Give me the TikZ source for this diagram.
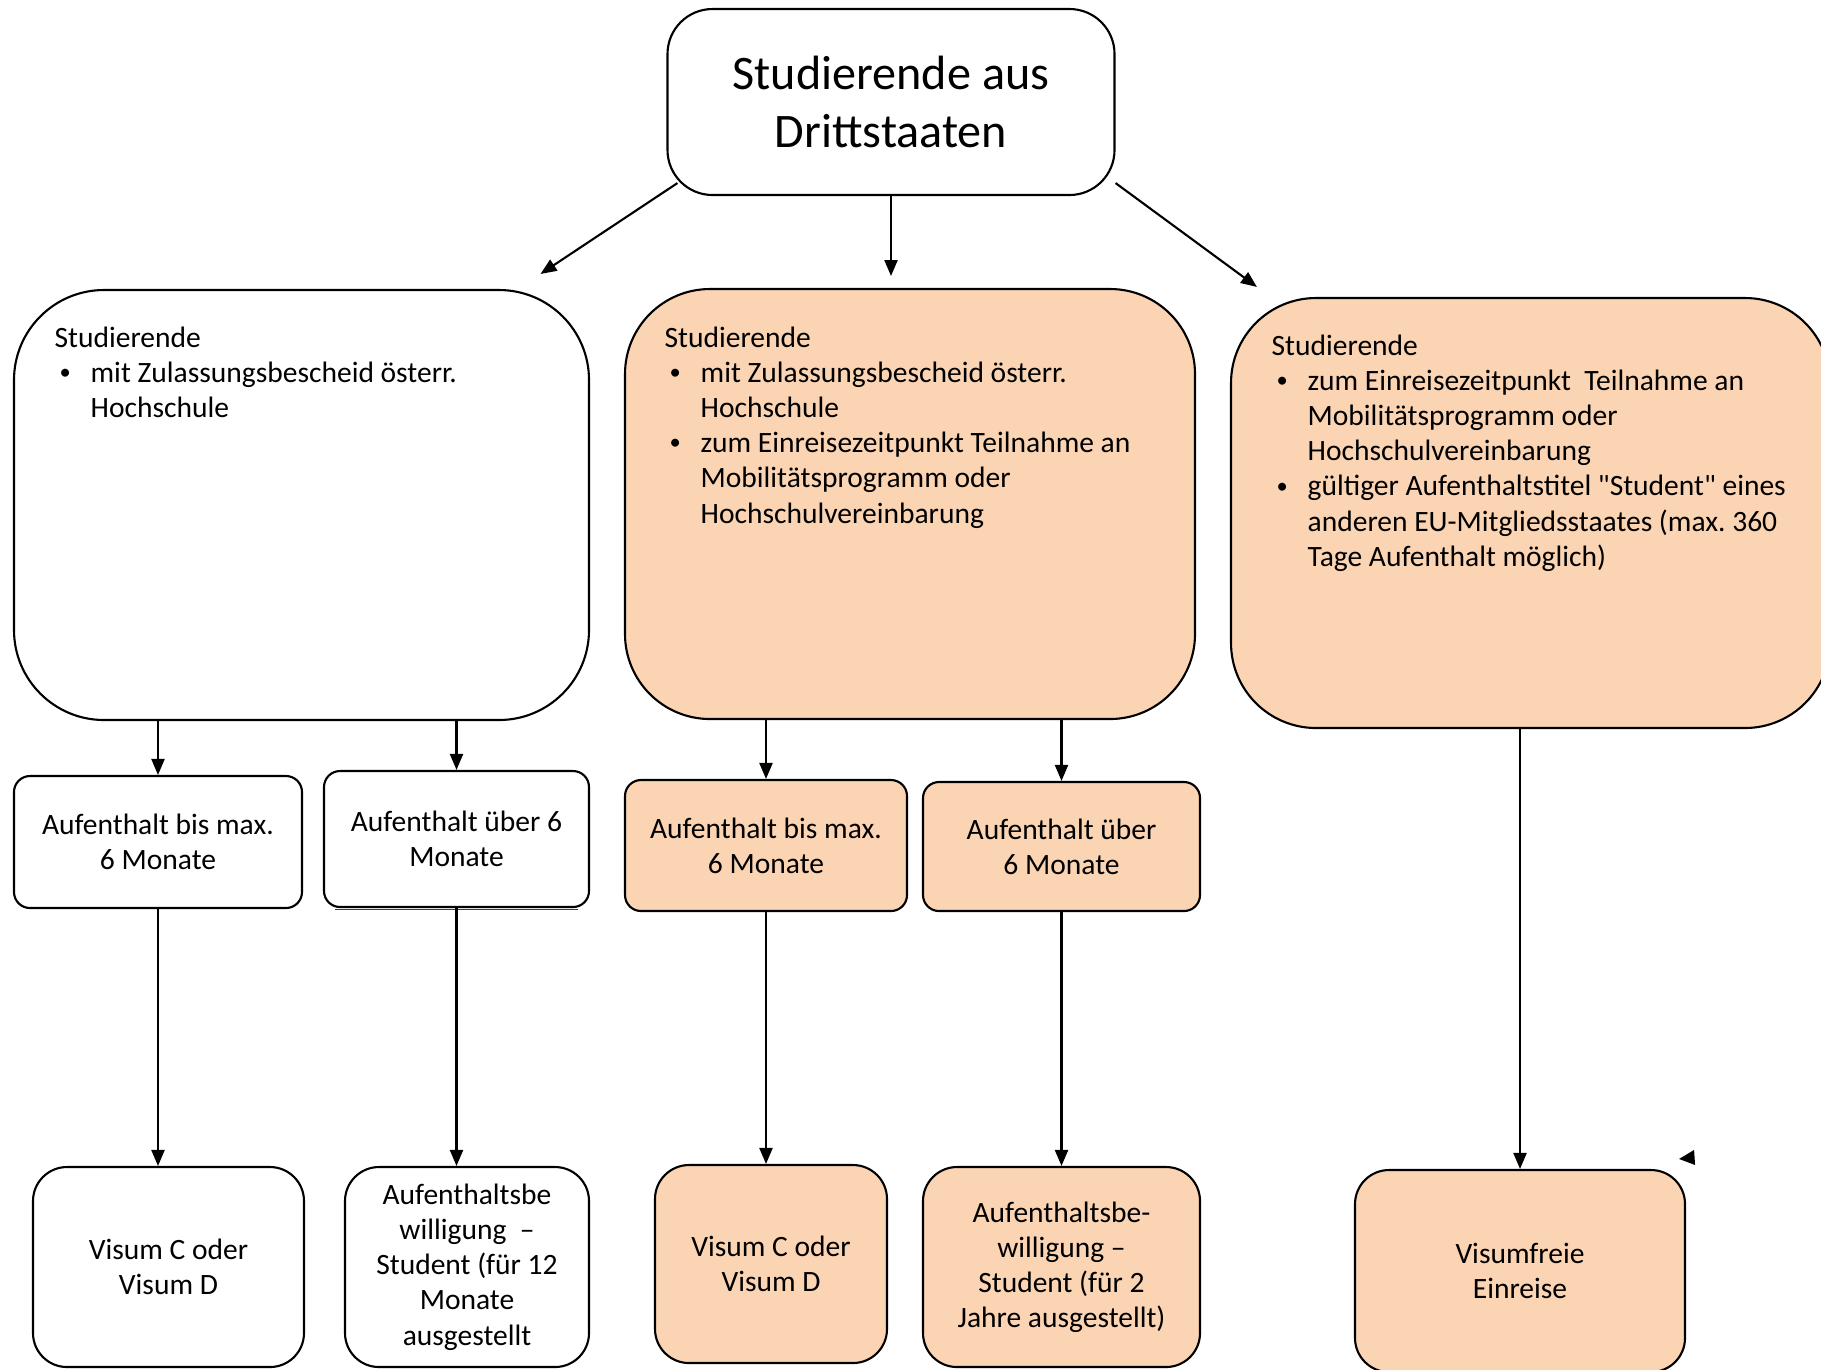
\documentclass[tikz,border=0pt]{standalone}
\usepackage{fontspec}
\setmainfont{Carlito}
\usepackage{tikz}
\usetikzlibrary{arrows.meta,positioning,calc}
\definecolor{peach}{HTML}{FBD4B4}
\newcommand{\pkt}{\hspace{0.5mm}\raisebox{0.2ex}{\fontsize{6.4}{10}\selectfont\textbullet}}
\tikzstyle{block} = [draw, rectangle, line width=0.6pt, align=center, text=black, inner sep=0pt]
\tikzstyle{big} = [block, rounded corners=8.5mm]
\tikzstyle{mid} = [block, rounded corners=1.6mm]
\tikzstyle{low} = [block, rounded corners=3.4mm]
\tikzstyle{tinted} = [fill=peach]
\tikzstyle{liste} = [anchor=north west, inner sep=0pt, align=left]
\tikzstyle{arr} = [draw, line width=0.6pt, ->]

\begin{document}
\frenchspacing
\begin{tikzpicture}[x=0.1mm, y=-0.1mm, >={Triangle[length=1.6mm,width=1.3mm]}, font=\fontsize{8.4}{10}\selectfont]
    \useasboundingbox (0,0) rectangle (1821,1369);
    \clip (0,0) rectangle (1821,1369);

    \node at (891,102) [block, name=top, rounded corners=4.5mm, minimum width=44.7mm, minimum height=18.6mm, font=\fontsize{13.7}{16.5}\selectfont] {Studierende aus\\ Drittstaaten};

    % obere Reihe
    \node at (301.5,505) [big, name=boxA, rounded corners=9mm, minimum width=57.5mm, minimum height=43mm] {};
    \node at (910,504) [big, tinted, name=boxB, minimum width=57mm, minimum height=43mm] {};
    \node at (1530.5,513) [big, tinted, name=boxC, minimum width=59.9mm, minimum height=43mm] {};

    \node [liste, below right=3.3mm and 4.1mm of boxA.north west] (txtA) {\begin{tabular}{@{}p{3.6mm}@{}l@{}}
        \multicolumn{2}{@{}l@{}}{Studierende}\\
        \pkt & mit Zulassungsbescheid österr.\\
        & Hochschule
    \end{tabular}};
    \node [liste, below right=3.4mm and 4.0mm of boxB.north west] (txtB) {\begin{tabular}{@{}p{3.6mm}@{}l@{}}
        \multicolumn{2}{@{}l@{}}{Studierende}\\
        \pkt & mit Zulassungsbescheid österr.\\
        & Hochschule\\
        \pkt & zum Einreisezeitpunkt Teilnahme an\\
        & Mobilitätsprogramm oder\\
        & Hochschulvereinbarung
    \end{tabular}};
    \node [liste, below right=3.3mm and 4.1mm of boxC.north west] (txtC) {\begin{tabular}{@{}p{3.6mm}@{}l@{}}
        \multicolumn{2}{@{}l@{}}{Studierende}\\
        \pkt & zum Einreisezeitpunkt\ \ Teilnahme an\\
        & Mobilitätsprogramm oder\\
        & Hochschulvereinbarung\\
        \pkt & gültiger Aufenthaltstitel \textquotedbl Student\textquotedbl\ eines\\
        & anderen EU-Mitgliedsstaates (max. 360\\
        & Tage Aufenthalt möglich)
    \end{tabular}};

    \draw [arr] ($(top.south west)+(11,-13)$) -- ($(boxA.north)+(239,-15)$);
    \draw [arr] (top.south) -- ($(top.south)+(0,80)$);
    \draw [arr] ($(top.south east)+(0,-13)$) -- ($(boxC.north west)+(27,-10)$);

    % Aufenthaltsdauer
    \node at (158,842) [mid, name=a1, minimum width=28.8mm, minimum height=13.2mm] {Aufenthalt bis max.\\ 6 Monate};
    \node at (456.5,839) [mid, name=a2, minimum width=26.5mm, minimum height=13.6mm] {Aufenthalt über 6\\ Monate};
    \draw [red!80!black, line width=0.5pt] ($(a2.south west)+(12,1.5)$) -- ($(a2.south east)+(-12,1.5)$);
    \node at (766,845.5) [mid, tinted, name=b1, minimum width=28.2mm, minimum height=13.1mm] {Aufenthalt bis max.\\ 6 Monate};
    \node at (1061.5,846.5) [mid, tinted, name=b2, minimum width=27.7mm, minimum height=12.9mm] {Aufenthalt über\\ 6 Monate};

    \draw [arr] (boxA.south -| a1.north) -- (a1.north);
    \draw [arr] (boxA.south -| a2.north) -- (a2.north);
    \draw [arr] (boxB.south -| b1.north) -- (b1.north);
    \draw [arr] (boxB.south -| b2.north) -- (b2.north);

    % Visum / Titel
    \node at (168.5,1267) [low, name=a3, minimum width=27.1mm, minimum height=20mm] {Visum C oder\\ Visum D};
    \node at (467,1267) [low, name=a4, minimum width=24.4mm, minimum height=20mm] {Aufenthaltsbe\\ willigung\ \ --\\ Student (für 12\\ Monate\\ ausgestellt};
    \node at (771,1264) [low, tinted, name=b3, minimum width=23.2mm, minimum height=19.8mm] {Visum C oder\\ Visum D};
    \node at (1061.5,1267) [low, tinted, name=b4, minimum width=27.7mm, minimum height=20mm] {Aufenthaltsbe-\\ willigung --\\ Student (für 2\\ Jahre ausgestellt)};
    \node at (1520,1271) [low, tinted, name=c3, minimum width=33mm, minimum height=20.2mm] {Visumfreie\\ Einreise};

    \draw [arr] (a1.south) -- (a1.south |- a3.north);
    \draw [arr] (a2.south) -- (a2.south |- a4.north);
    \draw [arr] (b1.south) -- (b1.south |- b3.north);
    \draw [arr] (b2.south) -- (b2.south |- b4.north);
    \draw [arr] (boxC.south -| c3.north) -- (c3.north);

    \fill ($(c3.north east)+(-7,-10)$) -- ++(15,-9) -- ++(1,15) -- cycle;
\end{tikzpicture}
\end{document}
